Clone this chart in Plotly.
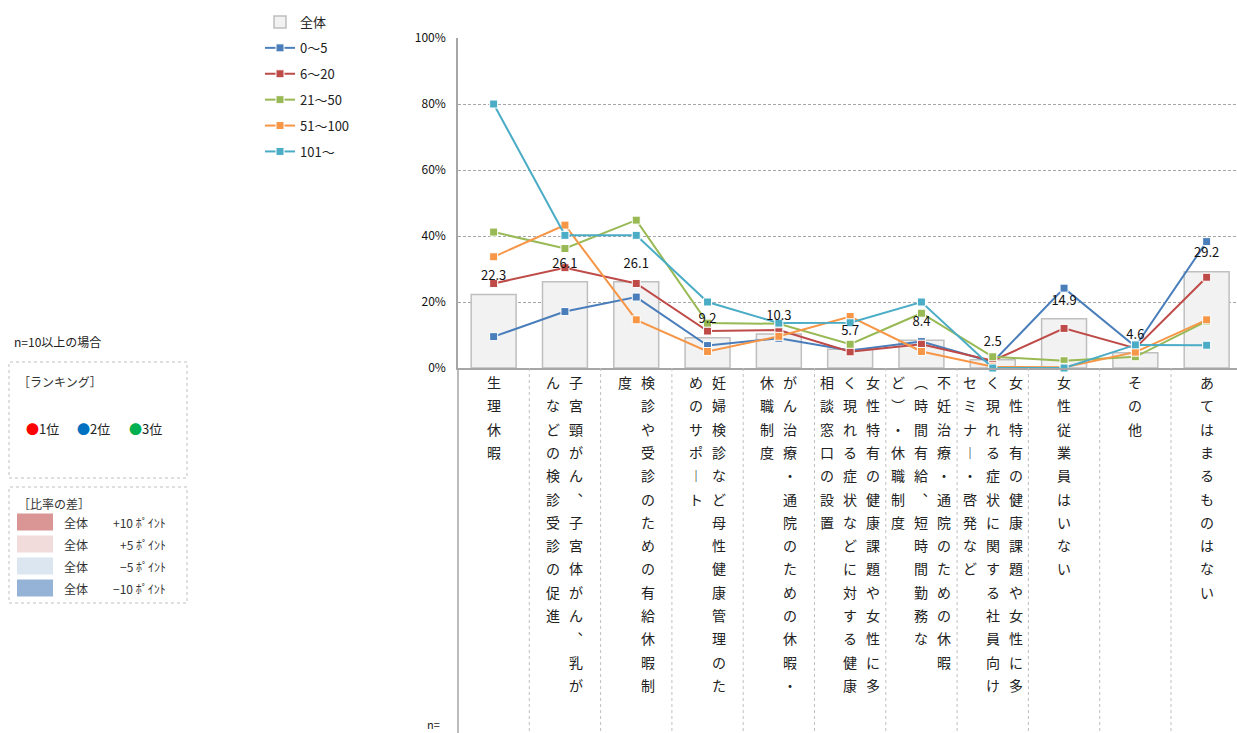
import plotly.graph_objects as go

# ---- data -------------------------------------------------------------
categories = [
    "生理休暇",
    "子宮頸がん、子宮体がん、乳がんなどの検診受診の促進",
    "検診や受診のための有給休暇制度",
    "妊婦検診など母性健康管理のためのサポート",
    "がん治療・通院のための休暇・休職制度",
    "女性特有の健康課題や女性に多く現れる症状などに対する健康相談窓口の設置",
    "不妊治療・通院のための休暇（時間有給、短時間勤務など）・休職制度",
    "女性特有の健康課題や女性に多く現れる症状に関する社員向けセミナー・啓発など",
    "女性従業員はいない",
    "その他",
    "あてはまるものはない",
]

# vertical label columns, right to left
label_columns = [
    ["生理休暇"],
    ["子宮頸がん、子宮体がん、乳が", "んなどの検診受診の促進"],
    ["検診や受診のための有給休暇制", "度"],
    ["妊婦検診など母性健康管理のた", "めのサポート"],
    ["がん治療・通院のための休暇・", "休職制度"],
    ["女性特有の健康課題や女性に多", "く現れる症状などに対する健康", "相談窓口の設置"],
    ["不妊治療・通院のための休暇", "（時間有給、短時間勤務な", "ど）・休職制度"],
    ["女性特有の健康課題や女性に多", "く現れる症状に関する社員向け", "セミナー・啓発など"],
    ["女性従業員はいない"],
    ["その他"],
    ["あてはまるものはない"],
]

total = [22.3, 26.1, 26.1, 9.2, 10.3, 5.7, 8.4, 2.5, 14.9, 4.6, 29.2]

series_names = ["0～5", "6～20", "21～50", "51～100", "101～"]
s_0_5 = [9.5, 17.1, 21.5, 6.8, 9.0, 5.3, 8.0, 1.8, 24.2, 6.5, 38.3]
s_6_20 = [25.6, 30.4, 25.6, 11.2, 11.5, 4.9, 7.2, 2.2, 12.0, 6.0, 27.5]
s_21_50 = [41.2, 36.2, 44.8, 13.6, 13.4, 7.2, 16.6, 3.4, 2.2, 3.4, 14.2]
s_51_100 = [33.7, 43.3, 14.6, 5.0, 9.6, 15.6, 5.0, 0.4, 0.2, 4.8, 14.6]
s_101 = [80.0, 40.2, 40.2, 20.0, 13.6, 13.7, 20.0, 0.0, 0.0, 7.0, 6.9]
series_values = [s_0_5, s_6_20, s_21_50, s_51_100, s_101]
series_colors = ["#4a7ebb", "#be4b48", "#98b954", "#f79646", "#4bacc6"]

y_ticks = [0, 20, 40, 60, 80, 100]
y_ticktext = ["0%", "20%", "40%", "60%", "80%", "100%"]

diff_rows = [("全体", "+10 ﾎﾟｲﾝﾄ", "#da9694"), ("全体", "+5 ﾎﾟｲﾝﾄ", "#f2dcdb"),
             ("全体", "−5 ﾎﾟｲﾝﾄ", "#dce6f1"), ("全体", "−10 ﾎﾟｲﾝﾄ", "#95b3d7")]

# ---- layout geometry --------------------------------------------------
W, H = 1237, 733
L, T, B = 458, 38, 365
PW, PH = W - L, H - T - B
CAT_PX = 71.3
x_max = -0.5 + PW / CAT_PX

FONT = "Noto Sans CJK JP, Noto Sans, sans-serif"
GRID = "#a6a6a6"


def px_x(px):
    return (px - L) / PW


def px_y(py):
    return (H - B - py) / PH


VERT = {"、": "︑", "ー": "︱", "（": "︵", "）": "︶", "。": "︒"}

fig = go.Figure()

idx = list(range(len(categories)))

fig.add_trace(go.Bar(
    x=idx, y=total, name="全体", width=0.63,
    marker=dict(color="#f2f2f2", line=dict(color="#bfbfbf", width=1.5)),
    hoverinfo="skip", legendgroup="g0",
))

for i, (nm, vals, col) in enumerate(zip(series_names, series_values, series_colors)):
    fig.add_trace(go.Scatter(
        x=idx, y=vals, name=nm, mode="lines+markers",
        line=dict(color=col, width=2),
        marker=dict(symbol="square", size=8, color=col, line=dict(color="white", width=1)),
        legendgroup=f"g{i+1}", cliponaxis=False,
    ))

# total value labels above the bars (invisible marker sets the text offset)
fig.add_trace(go.Scatter(
    x=idx, y=total, mode="markers+text", text=[f"{v:.1f}" for v in total],
    textposition="top center", showlegend=False, hoverinfo="skip",
    marker=dict(size=16, color="rgba(0,0,0,0)"),
    textfont=dict(family=FONT, size=13, color="#111"), cliponaxis=False,
))

annotations = []
shapes = []

# vertical category labels
for ci, cols in enumerate(label_columns):
    n = len(cols)
    for j, col_text in enumerate(cols):
        xs = ((n - 1) / 2 - j) * 23
        for r, ch in enumerate(col_text):
            annotations.append(dict(
                x=ci, y=0, xref="x", yref="paper", text=VERT.get(ch, ch),
                showarrow=False, xshift=xs, yshift=-(14 + 23.3 * r),
                xanchor="center", yanchor="middle",
                font=dict(family=FONT, size=14, color="#222"),
            ))

# separators between category label columns
for ci in range(len(categories) - 1):
    shapes.append(dict(type="line", xref="x", yref="paper", x0=ci + 0.5, x1=ci + 0.5,
                       y0=0, y1=px_y(H), line=dict(color="#bfbfbf", width=1, dash="dot")))
# left axis line continued down through the label area
shapes.append(dict(type="line", xref="paper", yref="paper", x0=0, x1=0,
                   y0=px_y(H), y1=0, line=dict(color=GRID, width=1.5)))

annotations.append(dict(x=px_x(442), y=px_y(724), xref="paper", yref="paper", text="n=",
                        showarrow=False, xanchor="right", yanchor="middle",
                        font=dict(family=FONT, size=11, color="#222")))

# left side notes
annotations.append(dict(x=px_x(12), y=px_y(341), xref="paper", yref="paper",
                        text="n=10以上の場合", showarrow=False, xanchor="left", yanchor="middle",
                        font=dict(family=FONT, size=12, color="#222")))
shapes.append(dict(type="rect", xref="paper", yref="paper", x0=px_x(9), x1=px_x(187),
                   y0=px_y(478), y1=px_y(362), line=dict(color="#bfbfbf", width=1, dash="dot")))
annotations.append(dict(x=px_x(16), y=px_y(381), xref="paper", yref="paper",
                        text="［ランキング］", showarrow=False, xanchor="left", yanchor="middle",
                        font=dict(family=FONT, size=12, color="#333")))
rank_items = [("#ff0000", "1位", 24), ("#0070c0", "2位", 75), ("#00b050", "3位", 127)]
for c, t, xp in rank_items:
    annotations.append(dict(x=px_x(xp), y=px_y(428), xref="paper", yref="paper",
                            text=f"<span style='color:{c}'>●</span>{t}", showarrow=False,
                            xanchor="left", yanchor="middle",
                            font=dict(family=FONT, size=13, color="#222")))

shapes.append(dict(type="rect", xref="paper", yref="paper", x0=px_x(9), x1=px_x(187),
                   y0=px_y(603), y1=px_y(487), line=dict(color="#bfbfbf", width=1, dash="dot")))
annotations.append(dict(x=px_x(16), y=px_y(503), xref="paper", yref="paper",
                        text="［比率の差］", showarrow=False, xanchor="left", yanchor="middle",
                        font=dict(family=FONT, size=12, color="#333")))
for k, (a, b, c) in enumerate(diff_rows):
    yc = 522 + 22 * k
    shapes.append(dict(type="rect", xref="paper", yref="paper", x0=px_x(17), x1=px_x(53),
                       y0=px_y(yc + 8.5), y1=px_y(yc - 8.5), fillcolor=c, line=dict(width=0)))
    annotations.append(dict(x=px_x(62), y=px_y(yc), xref="paper", yref="paper", text=a,
                            showarrow=False, xanchor="left", yanchor="middle",
                            font=dict(family=FONT, size=12, color="#333")))
    annotations.append(dict(x=px_x(168), y=px_y(yc), xref="paper", yref="paper", text=b,
                            showarrow=False, xanchor="right", yanchor="middle",
                            font=dict(family=FONT, size=12, color="#333")))

fig.update_layout(
    width=W, height=H,
    margin=dict(l=L, r=0, t=T, b=B, pad=0),
    plot_bgcolor="white", paper_bgcolor="white",
    font=dict(family=FONT, size=12, color="#222"),
    showlegend=True,
    legend=dict(xref="container", yref="container", x=260 / W, y=1 - 7 / H,
                xanchor="left", yanchor="top", tracegroupgap=6,
                font=dict(family=FONT, size=13, color="#222"), bgcolor="rgba(0,0,0,0)"),
    xaxis=dict(range=[-0.5, x_max], showticklabels=False, showgrid=False, zeroline=False,
               showline=True, linecolor=GRID, linewidth=1.5, ticks=""),
    yaxis=dict(range=[0, 100], tickvals=y_ticks, ticktext=y_ticktext,
               showgrid=True, gridcolor=GRID, griddash="3px,2px", gridwidth=1,
               zeroline=False, showline=True, linecolor=GRID, linewidth=1.5,
               tickfont=dict(family=FONT, size=12, color="#111"), ticks="", ticklabelstandoff=8),
    bargap=0.37,
    annotations=annotations, shapes=shapes,
    hovermode=False,
)

fig.write_html("out.html")
